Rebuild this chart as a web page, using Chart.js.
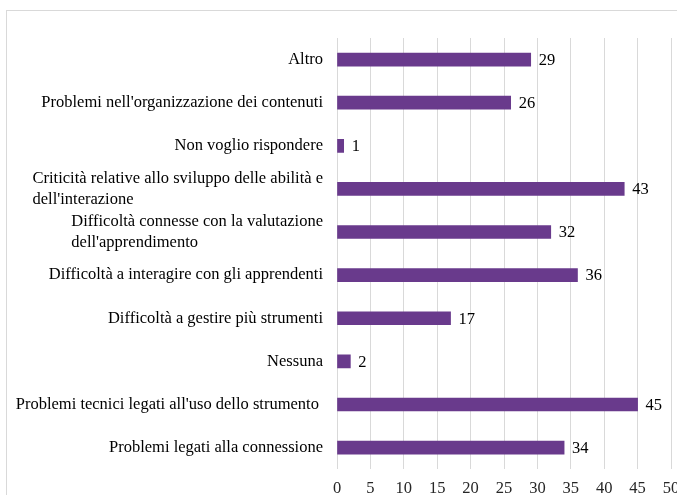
<!DOCTYPE html>
<html>
<head>
<meta charset="utf-8">
<script src="https://cdn.jsdelivr.net/npm/chart.js@4"></script>
<style>
    html, body { margin: 0; padding: 0; background: #fff; overflow: hidden; }
    #wrap { width: 700px; height: 509px; }
</style>
</head>
<body>
<div id="wrap"><canvas id="problemsChart" width="700" height="509"></canvas></div>
<script>
// Categories, top to bottom
const categories = [
    "Altro",
    "Problemi nell'organizzazione dei contenuti",
    "Non voglio rispondere",
    ["Criticità relative allo sviluppo delle abilità e", "dell'interazione"],
    ["Difficoltà connesse con la valutazione", "dell'apprendimento"],
    "Difficoltà a interagire con gli apprendenti",
    "Difficoltà a gestire più strumenti",
    "Nessuna",
    "Problemi tecnici legati all'uso dello strumento ",
    "Problemi legati alla connessione"
];
const responses = [29, 26, 1, 43, 32, 36, 17, 2, 45, 34];
const xMin = 0;
const xMax = 50;
const xStep = 5;

const serif = "'Liberation Serif', 'Times New Roman', serif";
const fontSize = 16.5;
const barColor = '#693a8c';
const gridColor = '#d9d9d9';

// Light frame around the chart
const framePlugin = {
    id: 'frame',
    beforeDraw(chart) {
        const ctx = chart.ctx;
        ctx.save();
        ctx.strokeStyle = gridColor;
        ctx.lineWidth = 1;
        ctx.strokeRect(6.5, 10.5, 900, 700);
        ctx.restore();
    }
};

// Category labels: multi-line ones left-aligned as a block, block flush right
const categoryLabels = {
    id: 'categoryLabels',
    afterDraw(chart) {
        const ctx = chart.ctx;
        const yScale = chart.scales.y;
        const right = chart.chartArea.left - 14;
        const lineH = 21;
        ctx.save();
        ctx.font = fontSize + 'px ' + serif;
        ctx.fillStyle = '#000';
        ctx.textBaseline = 'middle';
        ctx.textAlign = 'left';
        categories.forEach((label, i) => {
            const lines = Array.isArray(label) ? label : [label];
            const w = Math.max(...lines.map(l => ctx.measureText(l).width));
            const y = yScale.getPixelForValue(i);
            const y0 = y - (lines.length - 1) * lineH / 2;
            lines.forEach((line, k) => {
                ctx.fillText(line, right - w, y0 + k * lineH);
            });
        });
        ctx.restore();
    }
};

// Value next to the end of each bar
const valueLabels = {
    id: 'valueLabels',
    afterDatasetsDraw(chart) {
        const ctx = chart.ctx;
        const meta = chart.getDatasetMeta(0);
        ctx.save();
        ctx.font = fontSize + 'px ' + serif;
        ctx.fillStyle = '#000';
        ctx.textAlign = 'left';
        ctx.textBaseline = 'middle';
        meta.data.forEach((bar, i) => {
            ctx.fillText(String(responses[i]), bar.x + 8, bar.y + 1);
        });
        ctx.restore();
    }
};

new Chart(document.getElementById('problemsChart').getContext('2d'), {
    type: 'bar',
    data: {
        labels: categories,
        datasets: [{
            data: responses,
            backgroundColor: barColor,
            borderWidth: 0,
            barThickness: 13
        }]
    },
    options: {
        indexAxis: 'y',
        responsive: false,
        devicePixelRatio: 1,
        animation: false,
        layout: {
            padding: { top: 38, right: 29, bottom: 0, left: 0 }
        },
        scales: {
            x: {
                min: xMin,
                max: xMax,
                ticks: {
                    stepSize: xStep,
                    color: '#262626',
                    font: { family: serif, size: fontSize },
                    padding: 10
                },
                grid: {
                    color: gridColor,
                    lineWidth: 1,
                    drawTicks: false
                },
                border: { display: false }
            },
            y: {
                ticks: { display: false },
                grid: { display: false },
                border: { display: false },
                afterFit(scale) {
                    scale.width = 337;
                }
            }
        },
        plugins: {
            legend: { display: false },
            tooltip: { enabled: false }
        }
    },
    plugins: [framePlugin, categoryLabels, valueLabels]
});
</script>
</body>
</html>
